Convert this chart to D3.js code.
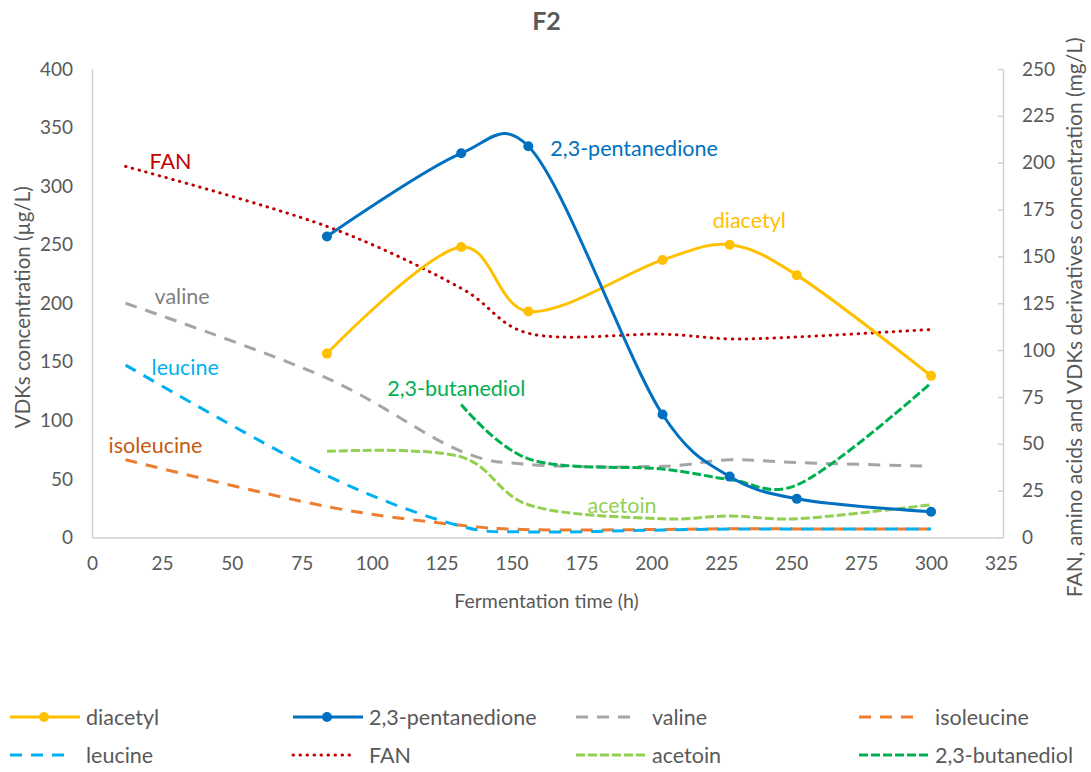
<!DOCTYPE html>
<html>
<head>
<meta charset="utf-8">
<script src="https://cdn.jsdelivr.net/npm/d3@7"></script>
<style>
  html, body { margin: 0; padding: 0; background: #ffffff; }
  svg text { font-family: Lato, "Open Sans", sans-serif; }
</style>
</head>
<body>
<svg id="chart" width="1091" height="772"></svg>
<script>
// ---- data -------------------------------------------------------------
// sampling times (h)
const vdkTimes = [84, 132, 156, 204, 228, 252, 300];
const aminoTimes = [12, 84, 132, 156, 204, 228, 252, 300];
const acetoinTimes = [84, 132, 156, 204, 228, 252, 300];
const butanediolTimes = [132, 156, 204, 228, 252, 300];

// VDKs, µg/L (left axis)
const diacetyl = [157, 248, 193, 237, 250, 224, 138];
const pentanedione = [257, 328, 334, 105, 52, 33, 22];

// FAN, amino acids and VDK derivatives, mg/L (right axis)
const fan = [198, 166, 133, 109, 108.5, 106, 107, 111];
const valine = [125, 85, 46, 39, 38, 41.5, 40, 38];
const isoleucine = [41.5, 16.5, 6.5, 4.2, 4.3, 4.7, 4.6, 4.5];
const leucine = [92, 33, 6, 3, 4, 4.5, 4.5, 4.5];
const acetoin = [46, 43, 17.5, 10, 11.5, 10, 17.5];
const butanediol = [71, 42, 36.5, 31, 28, 82.5];

// axis ticks
const xTicks = [0, 25, 50, 75, 100, 125, 150, 175, 200, 225, 250, 275, 300, 325];
const leftTicks = [0, 50, 100, 150, 200, 250, 300, 350, 400];
const rightTicks = [0, 25, 50, 75, 100, 125, 150, 175, 200, 225, 250];

const chartTitle = "F2";
const xTitle = "Fermentation time (h)";
const leftTitle = "VDKs concentration (µg/L)";
const rightTitle = "FAN, amino acids and VDKs derivatives concentration (mg/L)";

// ---- series styling ----------------------------------------------------
const series = [
  { name: "diacetyl", t: vdkTimes, v: diacetyl, axis: "L", color: "#FFC000", labelColor: "#FFC000", dash: null, marker: true, label: { i: 4, dx: -17, dy: -25 } },
  { name: "2,3-pentanedione", t: vdkTimes, v: pentanedione, axis: "L", color: "#0070C0", labelColor: "#0070C0", dash: null, marker: true, label: { i: 2, dx: 22, dy: 2 } },
  { name: "valine", t: aminoTimes, v: valine, axis: "R", color: "#A5A5A5", labelColor: "#7F7F7F", dash: "12 9", marker: false, label: { i: 0, dx: 29, dy: -7 } },
  { name: "isoleucine", t: aminoTimes, v: isoleucine, axis: "R", color: "#ED7D31", labelColor: "#C55A11", dash: "12 9", marker: false, label: { i: 0, dx: -17, dy: -15 } },
  { name: "leucine", t: aminoTimes, v: leucine, axis: "R", color: "#00B0F0", labelColor: "#00B0F0", dash: "12 9", marker: false, label: { i: 0, dx: 26, dy: 2 } },
  { name: "FAN", t: aminoTimes, v: fan, axis: "R", color: "#C00000", labelColor: "#C00000", dash: "0.5 6.5", cap: "round", marker: false, label: { i: 0, dx: 24, dy: -5 } },
  { name: "acetoin", t: acetoinTimes, v: acetoin, axis: "R", color: "#92D050", labelColor: "#92D050", dash: "9 3", marker: false, label: { i: 3, dx: -75, dy: -14 } },
  { name: "2,3-butanediol", t: butanediolTimes, v: butanediol, axis: "R", color: "#00B050", labelColor: "#00B050", dash: "9 3", marker: false, label: { i: 0, dx: -74, dy: -16 } }
];

// ---- layout ------------------------------------------------------------
const svg = d3.select("#chart");
const plot = { left: 92, right: 1001, top: 69, bottom: 537.5 };
const textGray = "#595959";
const axisGray = "#D0D0D0";

const x = d3.scaleLinear().domain([0, 325]).range([plot.left, plot.right]);
const yL = d3.scaleLinear().domain([0, 400]).range([plot.bottom, plot.top]);
const yR = d3.scaleLinear().domain([0, 250]).range([plot.bottom, plot.top]);

// title
svg.append("text")
  .attr("x", (plot.left + plot.right) / 2).attr("y", 20)
  .attr("text-anchor", "middle").attr("dominant-baseline", "central")
  .attr("font-size", 25).attr("font-weight", "bold").attr("fill", textGray)
  .text(chartTitle);

// axes
function styleAxis(g) {
  g.select(".domain").attr("stroke", axisGray).attr("stroke-width", 1.5);
  g.selectAll(".tick line").attr("stroke", axisGray).attr("stroke-width", 1.5);
  g.selectAll(".tick text").attr("fill", textGray).attr("font-size", 19)
    .attr("font-family", "Lato, 'Open Sans', sans-serif");
}

svg.append("g")
  .attr("transform", `translate(0,${plot.bottom})`)
  .call(d3.axisBottom(x).tickValues(xTicks).tickSize(0).tickPadding(19).tickFormat(d3.format("d")))
  .call(styleAxis);

svg.append("g")
  .attr("transform", `translate(${plot.left},0)`)
  .call(d3.axisLeft(yL).tickValues(leftTicks).tickSize(0).tickPadding(19).tickFormat(d3.format("d")))
  .call(styleAxis);

svg.append("g")
  .attr("transform", `translate(${plot.right + 2},0)`)
  .call(d3.axisRight(yR).tickValues(rightTicks).tickSizeInner(-5).tickSizeOuter(0).tickPadding(19).tickFormat(d3.format("d")))
  .call(styleAxis);

// axis titles
svg.append("text")
  .attr("x", (plot.left + plot.right) / 2).attr("y", 600)
  .attr("text-anchor", "middle").attr("dominant-baseline", "central")
  .attr("font-size", 19.5).attr("fill", textGray).text(xTitle);

svg.append("text")
  .attr("transform", `translate(22,${(plot.top + plot.bottom) / 2 + 4}) rotate(-90)`)
  .attr("text-anchor", "middle").attr("dominant-baseline", "central")
  .attr("font-size", 20.5).attr("fill", textGray).text(leftTitle);

svg.append("text")
  .attr("transform", `translate(1073,${(plot.top + plot.bottom) / 2 + 14}) rotate(-90)`)
  .attr("text-anchor", "middle").attr("dominant-baseline", "central")
  .attr("font-size", 21).attr("fill", textGray).text(rightTitle);

// smoothed lines
const curve = d3.curveCatmullRom.alpha(0.2);
const drawOrder = ["valine", "isoleucine", "leucine", "FAN", "acetoin", "2,3-butanediol", "diacetyl", "2,3-pentanedione"];
const lines = svg.append("g");

drawOrder.forEach(name => {
  const s = series.find(d => d.name === name);
  const y = s.axis === "L" ? yL : yR;
  const pts = s.t.map((t, i) => [t, s.v[i]]);
  const gen = d3.line().x(d => x(d[0])).y(d => y(d[1])).curve(curve);
  lines.append("path")
    .attr("d", gen(pts))
    .attr("fill", "none")
    .attr("stroke", s.color)
    .attr("stroke-width", 3)
    .attr("stroke-linecap", s.cap || "butt")
    .attr("stroke-dasharray", s.dash);
  if (s.marker) {
    lines.append("g").selectAll("circle").data(pts).join("circle")
      .attr("cx", d => x(d[0])).attr("cy", d => y(d[1])).attr("r", 5)
      .attr("fill", s.color);
  }
});

// series labels attached to a point
const labels = svg.append("g");
series.forEach(s => {
  const y = s.axis === "L" ? yL : yR;
  const i = s.label.i;
  labels.append("text")
    .attr("x", x(s.t[i]) + s.label.dx)
    .attr("y", y(s.v[i]) + s.label.dy)
    .attr("dominant-baseline", "central")
    .attr("font-size", 21.5)
    .attr("fill", s.labelColor)
    .text(s.name);
});

// legend
const legendOrder = ["diacetyl", "2,3-pentanedione", "valine", "isoleucine", "leucine", "FAN", "acetoin", "2,3-butanediol"];
const legCols = [10, 293, 576, 859];
const legRows = [717, 755];
const legend = svg.append("g");
legendOrder.forEach((name, k) => {
  const s = series.find(d => d.name === name);
  const lx = legCols[k % 4], ly = legRows[Math.floor(k / 4)];
  const len = s.marker ? 70 : (s.dash === "12 9" ? 59 : (s.cap ? 62 : 70));
  legend.append("line")
    .attr("x1", lx).attr("x2", lx + len).attr("y1", ly).attr("y2", ly)
    .attr("stroke", s.color).attr("stroke-width", 3)
    .attr("stroke-linecap", s.cap || "butt")
    .attr("stroke-dasharray", s.dash);
  if (s.marker) {
    legend.append("circle").attr("cx", lx + 34).attr("cy", ly).attr("r", 5).attr("fill", s.color);
  }
  legend.append("text")
    .attr("x", lx + 76).attr("y", ly)
    .attr("dominant-baseline", "central")
    .attr("font-size", 21.5).attr("fill", textGray)
    .text(name);
});
</script>
</body>
</html>
